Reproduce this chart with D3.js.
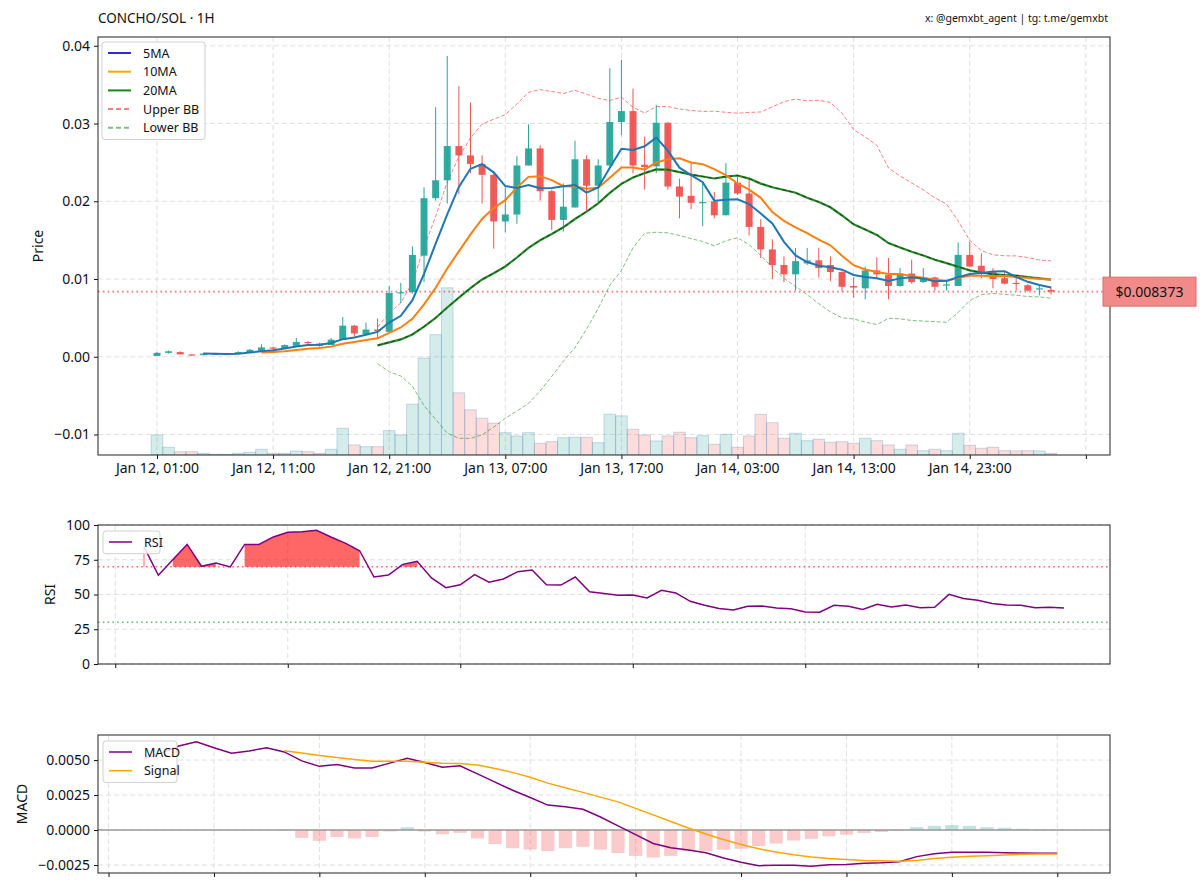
<!DOCTYPE html>
<html>
<head>
<meta charset="utf-8">
<script src="https://cdn.jsdelivr.net/npm/d3@7"></script>
<style>
body { margin: 0; background: #fff; }
text { font-family: "Noto Sans", "DejaVu Sans", sans-serif; fill: #111; }
</style>
</head>
<body>
<svg id="chart" width="1200" height="890"></svg>
<script>
// ---- data (hourly candles, Jan 12 01:00 -> Jan 15 06:00) ----
var tickLabels = ["Jan 12, 01:00", "Jan 12, 11:00", "Jan 12, 21:00", "Jan 13, 07:00",
  "Jan 13, 17:00", "Jan 14, 03:00", "Jan 14, 13:00", "Jan 14, 23:00", ""];
var tickIdx = [0, 10, 20, 30, 40, 50, 60, 70, 80];

var opens = [0.0001,0.0005,0.0006,0.0003,0.0002, 0.0003,0.0003,0.0005,0.0006,0.0007,
  0.0012,0.0011,0.0014,0.0019,0.0017, 0.0015,0.0022,0.0040,0.0029,0.0035,
  0.0032,0.0082,0.0083,0.0130,0.0204, 0.0227,0.0271,0.0259,0.0248,0.0234,
  0.0174,0.0183,0.0246,0.0268,0.0213, 0.0176,0.0192,0.0254,0.0220,0.0246,
  0.0302,0.0316,0.0247,0.0245,0.0301, 0.0219,0.0207,0.0198,0.0200,0.0182,
  0.0224,0.0210,0.0167,0.0138,0.0118, 0.0106,0.0120,0.0124,0.0118,0.0109,
  0.0091,0.0088,0.0111,0.0105,0.0091, 0.0107,0.0096,0.0102,0.0092,0.0091,
  0.0131,0.0117,0.0109,0.0101,0.0095, 0.0092,0.0087,0.0086];
var highs = [0.0006,0.0008,0.0007,0.0003,0.0005, 0.0005,0.0005,0.0007,0.0010,0.0016,
  0.0013,0.0016,0.0024,0.0020,0.0018, 0.0024,0.0051,0.0041,0.0044,0.0049,
  0.0091,0.0095,0.0142,0.0218,0.0321, 0.0387,0.0348,0.0327,0.0259,0.0236,
  0.0218,0.0258,0.0299,0.0272,0.0215, 0.0223,0.0278,0.0259,0.0254,0.0371,
  0.0382,0.0345,0.0283,0.0324,0.0302, 0.0229,0.0249,0.0223,0.0212,0.0249,
  0.0232,0.0228,0.0177,0.0151,0.0129, 0.0140,0.0140,0.0140,0.0129,0.0110,
  0.0102,0.0116,0.0128,0.0127,0.0114, 0.0125,0.0114,0.0103,0.0098,0.0147,
  0.0148,0.0133,0.0114,0.0109,0.0104, 0.0093,0.0091,0.0090];
var lows = [0.0001,0.0004,0.0003,0.0001,0.0002, 0.0003,0.0003,0.0005,0.0006,0.0007,
  0.0009,0.0011,0.0014,0.0016,0.0013, 0.0015,0.0022,0.0026,0.0029,0.0024,
  0.0032,0.0069,0.0081,0.0096,0.0201, 0.0197,0.0209,0.0236,0.0197,0.0139,
  0.0160,0.0171,0.0246,0.0201,0.0163, 0.0161,0.0192,0.0188,0.0199,0.0245,
  0.0285,0.0236,0.0215,0.0236,0.0215, 0.0178,0.0190,0.0168,0.0178,0.0182,
  0.0208,0.0156,0.0127,0.0100,0.0096, 0.0085,0.0118,0.0102,0.0097,0.0084,
  0.0076,0.0074,0.0100,0.0074,0.0090, 0.0094,0.0095,0.0085,0.0085,0.0091,
  0.0115,0.0101,0.0088,0.0093,0.0085, 0.0084,0.0079,0.0080];
var closes = [0.0005,0.0007,0.0003,0.0002,0.0004, 0.0004,0.0004,0.0006,0.0009,0.0012,
  0.0011,0.0015,0.0019,0.0018,0.0014, 0.0022,0.0040,0.0030,0.0035,0.0033,
  0.0082,0.0083,0.0131,0.0204,0.0227, 0.0271,0.0259,0.0248,0.0234,0.0174,
  0.0183,0.0246,0.0268,0.0213,0.0176, 0.0193,0.0254,0.0220,0.0246,0.0302,
  0.0316,0.0246,0.0244,0.0301,0.0219, 0.0206,0.0198,0.0199,0.0182,0.0224,
  0.0210,0.0167,0.0138,0.0118,0.0106, 0.0123,0.0124,0.0114,0.0109,0.0090,
  0.0089,0.0111,0.0106,0.0091,0.0107, 0.0096,0.0102,0.0090,0.0093,0.0131,
  0.0116,0.0109,0.0100,0.0094,0.0094, 0.0085,0.0088,0.008373];
var volumes = [20,7.7,3.3,3.3,1.7, 0.7,0.7,1.7,2.7,5.7,
  1.7,1.7,4,3.3,1.7, 5.7,26.7,10,8.3,8.3,
  24.3,20,50.7,96.7,120, 166.7,62,45,36.7,31.7,
  22.3,19,22.3,11.7,13.3, 17.3,17.7,17.7,12.3,40.7,
  39,25.7,20,14,19, 22.7,17.3,19.3,10.7,20.7,
  7.7,19,40.5,32.2,16.7, 21.7,14.3,15.7,12.7,13.3,
  11.7,16.7,14.3,10,5.7, 10,4.3,5.7,4.3,21.7,
  9.7,6.7,7.7,4.3,4, 4.3,4,1.7];
var lastPrice = 0.008373;

var rsiValues = [84.2,63.8,75,86,70.3,72.7,69.8,86,86,91.4,94.7,95.2,96.2,91.4,87,81.5,
  62.6,64,71.7,73.9,61.9,54.9,57,64.3,58.8,61.2,66.4,67.6,57,56.8,62.6,52.0,
  50.8,49.4,49.6,47.5,53.0,51.1,45.1,42.2,40.0,38.8,41.5,41.7,40.3,39.8,37.4,37.2,
  42.2,41.5,39.3,42.9,41.0,42.4,40.5,40.8,50.1,47.2,45.8,43.6,42.4,42.2,40.5,40.8,40.3];
var rsiTicks = [-2, 10, 22, 34, 46, 58];

var macdValues = [0.0051,0.0055,0.0060,0.0063,0.00588,0.00548,0.00565,0.00588,0.00558,0.00494,
  0.00455,0.00469,0.00443,0.00443,0.00478,0.00513,0.00483,0.00448,0.00459,0.00401,
  0.00342,0.00284,0.00232,0.00178,0.00166,0.00148,0.00093,0.0003,-0.00033,-0.00096,
  -0.00127,-0.00143,-0.00162,-0.0020,-0.0023,-0.00255,-0.00251,-0.00251,-0.00258,-0.00248,
  -0.00246,-0.00237,-0.00234,-0.00227,-0.0019,-0.00169,-0.00159,-0.00159,-0.00159,-0.00162,
  -0.00164,-0.00166,-0.00166];
var signalStart = 8;
var signalValues = [0.00567,0.00551,0.00532,0.00518,0.00504,0.00492,0.00492,0.00492,0.00485,0.00478,
  0.00476,0.00464,0.00440,0.00412,0.00377,0.00335,0.00302,0.00269,0.00235,0.00201,
  0.00155,0.00108,0.00061,0.00014,-0.00028,-0.00068,-0.00103,-0.00134,-0.00157,-0.00176,
  -0.00192,-0.00204,-0.00211,-0.00218,-0.0022,-0.00223,-0.00218,-0.00204,-0.00194,-0.00187,
  -0.00183,-0.00178,-0.00173,-0.00171,-0.00171];
var histValues = [-0.00005,-0.00056,-0.00077,-0.0005,-0.0006,-0.0005,-0.0001,0.0002,-0.0001,-0.0003,
  -0.0002,-0.0006,-0.0010,-0.0013,-0.0014,-0.0015,-0.0013,-0.0012,-0.0014,-0.00164,
  -0.00185,-0.00197,-0.00185,-0.0015,-0.0015,-0.00141,-0.00134,-0.00115,-0.00096,-0.00075,
  -0.00063,-0.00045,-0.00033,-0.00021,-0.00014,-0.00007,0.00021,0.0003,0.00035,0.0003,
  0.00021,0.00016,0.00009,0.00007,0.00005];
var macdTicks = [-2, 4, 10, 16, 22, 28, 34, 40, 46, 52];

// ---- layout ----
var UP = "#26a69a", DOWN = "#ef5350";
var svg = d3.select("#chart");
var mainBox = {left: 98, right: 1110, top: 37, bottom: 455};
var rsiBox = {left: 98, right: 1110, top: 525, bottom: 664};
var macdBox = {left: 98, right: 1110, top: 735, bottom: 873};

function clip(id, b) {
  svg.append("clipPath").attr("id", id).append("rect")
    .attr("x", b.left).attr("y", b.top).attr("width", b.right - b.left).attr("height", b.bottom - b.top);
}
clip("clipMain", mainBox); clip("clipRsi", rsiBox); clip("clipMacd", macdBox);

function grid(g, b, xs, ys, xTicks, yTicks) {
  g.selectAll(".vg").data(xTicks).enter().append("line")
    .attr("x1", function(d){ return xs(d); }).attr("x2", function(d){ return xs(d); })
    .attr("y1", b.top).attr("y2", b.bottom)
    .attr("stroke", "#e0e0e0").attr("stroke-dasharray", "5,3").attr("stroke-width", 1);
  g.selectAll(".hg").data(yTicks).enter().append("line")
    .attr("y1", function(d){ return ys(d); }).attr("y2", function(d){ return ys(d); })
    .attr("x1", b.left).attr("x2", b.right)
    .attr("stroke", "#e0e0e0").attr("stroke-dasharray", "5,3").attr("stroke-width", 1);
}

function axes(b, xs, ys, xTicks, xFmt, yTicks, yFmt) {
  var gx = svg.append("g").attr("transform", "translate(0," + b.bottom + ")")
    .call(d3.axisBottom(xs).tickValues(xTicks).tickFormat(xFmt).tickSize(4).tickPadding(4).tickSizeOuter(0));
  var gy = svg.append("g").attr("transform", "translate(" + b.left + ",0)")
    .call(d3.axisLeft(ys).tickValues(yTicks).tickFormat(yFmt).tickSize(4).tickPadding(4).tickSizeOuter(0));
  [gx, gy].forEach(function(g){
    g.select(".domain").remove();
    g.selectAll("text").style("font-family", "'Noto Sans', sans-serif").style("font-size", "14px").attr("fill", "#111");
    g.selectAll("line").attr("stroke", "#111");
  });
  svg.append("rect").attr("x", b.left).attr("y", b.top)
    .attr("width", b.right - b.left).attr("height", b.bottom - b.top)
    .attr("fill", "none").attr("stroke", "#222").attr("stroke-width", 1);
}

function legend(x0, y0, w, rows) {
  var g = svg.append("g");
  g.append("rect").attr("x", x0).attr("y", y0).attr("width", w).attr("height", rows.length * 18.7 + 4)
    .attr("rx", 3).attr("fill", "#fff").attr("fill-opacity", 0.85).attr("stroke", "#d0d0d0");
  rows.forEach(function(r, i){
    var cy = y0 + 11 + i * 18.7;
    g.append("line").attr("x1", x0 + 6).attr("x2", x0 + 29).attr("y1", cy).attr("y2", cy)
      .attr("stroke", r.color).attr("stroke-width", r.width || 2)
      .attr("stroke-dasharray", r.dash || null);
    g.append("text").attr("x", x0 + 41).attr("y", cy + 4.5).style("font-size", "12.5px").text(r.label);
  });
}

// ---- main price panel ----
var x = d3.scaleLinear().domain([-5.08, 82.08]).range([mainBox.left, mainBox.right]);
var y = d3.scaleLinear().domain([-0.01264, 0.04113]).range([mainBox.bottom, mainBox.top]);
var yVol = d3.scaleLinear().domain([0, d3.max(volumes) * 2.5]).range([mainBox.bottom, mainBox.top]);
var step = x(1) - x(0);

grid(svg.append("g"), mainBox, x, y, tickIdx, [-0.01, 0, 0.01, 0.02, 0.03, 0.04]);

var pm = svg.append("g").attr("clip-path", "url(#clipMain)");

// volume
pm.selectAll(".vol").data(volumes).enter().append("rect")
  .attr("x", function(d, i){ return x(i) - step / 2; })
  .attr("width", step)
  .attr("y", function(d){ return yVol(d); })
  .attr("height", function(d){ return yVol(0) - yVol(d); })
  .attr("fill", function(d, i){ return closes[i] >= opens[i] ? UP : DOWN; })
  .attr("fill-opacity", 0.2)
  .attr("stroke", "rgba(90,140,190,0.3)").attr("stroke-width", 1);

// indicators derived from the closes
function rolling(arr, n, fn) {
  return arr.map(function(d, i){ return i < n - 1 ? null : fn(arr.slice(i - n + 1, i + 1)); });
}
var ma5 = rolling(closes, 5, d3.mean);
var ma10 = rolling(closes, 10, d3.mean);
var ma20 = rolling(closes, 20, d3.mean);
var sd20 = rolling(closes, 20, d3.deviation);
var bbUpper = ma20.map(function(m, i){ return m == null ? null : m + 2 * sd20[i]; });
var bbLower = ma20.map(function(m, i){ return m == null ? null : m - 2 * sd20[i]; });

var line = d3.line().defined(function(d){ return d != null; })
  .x(function(d, i){ return x(i); }).y(function(d){ return y(d); });

pm.append("path").attr("d", line(bbUpper)).attr("fill", "none")
  .attr("stroke", "rgba(255,0,0,0.5)").attr("stroke-width", 1).attr("stroke-dasharray", "4,2");
pm.append("path").attr("d", line(bbLower)).attr("fill", "none")
  .attr("stroke", "rgba(0,128,0,0.5)").attr("stroke-width", 1).attr("stroke-dasharray", "4,2");

// current price line
pm.append("line").attr("x1", mainBox.left).attr("x2", mainBox.right)
  .attr("y1", y(lastPrice)).attr("y2", y(lastPrice))
  .attr("stroke", "rgba(255,0,0,0.55)").attr("stroke-width", 1.6).attr("stroke-dasharray", "1.6,3.2");

// candles
var candles = pm.selectAll(".candle").data(closes).enter().append("g");
candles.append("line")
  .attr("x1", function(d, i){ return x(i); }).attr("x2", function(d, i){ return x(i); })
  .attr("y1", function(d, i){ return y(highs[i]); }).attr("y2", function(d, i){ return y(lows[i]); })
  .attr("stroke", function(d, i){ return d >= opens[i] ? UP : DOWN; }).attr("stroke-width", 1);
candles.append("rect")
  .attr("x", function(d, i){ return x(i) - step * 0.3; })
  .attr("width", step * 0.6)
  .attr("y", function(d, i){ return y(Math.max(d, opens[i])); })
  .attr("height", function(d, i){ return Math.max(1.2, Math.abs(y(d) - y(opens[i]))); })
  .attr("fill", function(d, i){ return d >= opens[i] ? UP : DOWN; })
  .attr("fill-opacity", 0.95);

pm.append("path").attr("d", line(ma20)).attr("fill", "none").attr("stroke", "#2a8a2a").attr("stroke-width", 2.2);
pm.append("path").attr("d", line(ma20)).attr("fill", "none").attr("stroke", "#0d4a14")
  .attr("stroke-width", 1).attr("stroke-dasharray", "4,3");
pm.append("path").attr("d", line(ma10)).attr("fill", "none").attr("stroke", "#ff7f0e").attr("stroke-width", 2);
pm.append("path").attr("d", line(ma5)).attr("fill", "none").attr("stroke", "#1f77b4").attr("stroke-width", 2);

axes(mainBox, x, y, tickIdx, function(d, i){ return tickLabels[i]; },
  [-0.01, 0, 0.01, 0.02, 0.03, 0.04], d3.format(".2f"));

legend(102, 42, 103, [
  {label: "5MA", color: "#2b2bdc"},
  {label: "10MA", color: "#ffa500"},
  {label: "20MA", color: "#138a13"},
  {label: "Upper BB", color: "rgba(255,0,0,0.5)", dash: "5,3"},
  {label: "Lower BB", color: "rgba(0,128,0,0.5)", dash: "5,3"}
]);

// price tag
var tag = svg.append("g");
tag.append("rect").attr("x", 1103).attr("y", y(lastPrice) - 14.5).attr("width", 93).attr("height", 29)
  .attr("fill", "#f28a8a").attr("stroke", "#e26a6a").attr("stroke-width", 1);
tag.append("text").attr("x", 1149.5).attr("y", y(lastPrice) + 5).attr("text-anchor", "middle")
  .style("font-size", "14px").text("$" + lastPrice.toFixed(6));

svg.append("text").attr("x", 98).attr("y", 23).style("font-size", "13.5px").text("CONCHO/SOL \u00b7 1H");
svg.append("text").attr("x", 1108).attr("y", 22).attr("text-anchor", "end").style("font-size", "10.5px")
  .text("x: @gemxbt_agent | tg: t.me/gemxbt");
svg.append("text").attr("transform", "translate(43," + ((mainBox.top + mainBox.bottom) / 2) + ") rotate(-90)")
  .attr("text-anchor", "middle").style("font-size", "14px").text("Price");

// ---- RSI panel ----
var xr = d3.scaleLinear().domain([-3.2, 67.2]).range([rsiBox.left, rsiBox.right]);
var yr = d3.scaleLinear().domain([0, 100]).range([rsiBox.bottom, rsiBox.top]);
grid(svg.append("g"), rsiBox, xr, yr, rsiTicks, [0, 25, 50, 75, 100]);
var pr = svg.append("g").attr("clip-path", "url(#clipRsi)");

// overbought fill, one polygon per contiguous run above 70
var runs = [], cur = null;
rsiValues.forEach(function(v, i){
  if (v > 70) { if (!cur) { cur = []; runs.push(cur); } cur.push(i); } else cur = null;
});
var area = d3.area().x(function(i){ return xr(i); }).y0(yr(70)).y1(function(i){ return yr(rsiValues[i]); });
runs.forEach(function(r){
  if (r.length === 1) {
    pr.append("line").attr("x1", xr(r[0])).attr("x2", xr(r[0])).attr("y1", yr(70)).attr("y2", yr(rsiValues[r[0]]))
      .attr("stroke", "#ff6666").attr("stroke-width", 1);
  } else {
    pr.append("path").attr("d", area(r)).attr("fill", "#ff0000").attr("fill-opacity", 0.6);
  }
});
pr.append("line").attr("x1", rsiBox.left).attr("x2", rsiBox.right).attr("y1", yr(70)).attr("y2", yr(70))
  .attr("stroke", "rgba(255,0,0,0.6)").attr("stroke-width", 1.6).attr("stroke-dasharray", "1.6,3.2");
pr.append("line").attr("x1", rsiBox.left).attr("x2", rsiBox.right).attr("y1", yr(30)).attr("y2", yr(30))
  .attr("stroke", "rgba(0,150,0,0.6)").attr("stroke-width", 1.6).attr("stroke-dasharray", "1.6,3.2");
pr.append("path").attr("d", d3.line().x(function(d, i){ return xr(i); }).y(function(d){ return yr(d); })(rsiValues))
  .attr("fill", "none").attr("stroke", "#800080").attr("stroke-width", 1.5);
axes(rsiBox, xr, yr, rsiTicks, function(){ return ""; }, [0, 25, 50, 75, 100], d3.format("d"));
legend(103, 531, 57, [{label: "RSI", color: "#800080", width: 1.5}]);
svg.append("text").attr("transform", "translate(55," + ((rsiBox.top + rsiBox.bottom) / 2) + ") rotate(-90)")
  .attr("text-anchor", "middle").style("font-size", "14px").text("RSI");

// ---- MACD panel ----
var xm = d3.scaleLinear().domain([-2.6, 55.0]).range([macdBox.left, macdBox.right]);
var ym = d3.scaleLinear().domain([-0.00307, 0.00679]).range([macdBox.bottom, macdBox.top]);
var mstep = xm(1) - xm(0);
grid(svg.append("g"), macdBox, xm, ym, macdTicks, [-0.0025, 0, 0.0025, 0.005]);
var pmc = svg.append("g").attr("clip-path", "url(#clipMacd)");
pmc.selectAll(".hist").data(histValues).enter().append("rect")
  .attr("x", function(d, i){ return xm(i + signalStart) - mstep * 0.375; })
  .attr("width", mstep * 0.75)
  .attr("y", function(d){ return ym(Math.max(0, d)); })
  .attr("height", function(d){ return Math.abs(ym(d) - ym(0)); })
  .attr("fill", function(d){ return d >= 0 ? UP : DOWN; }).attr("fill-opacity", 0.3);
pmc.append("line").attr("x1", macdBox.left).attr("x2", macdBox.right).attr("y1", ym(0)).attr("y2", ym(0))
  .attr("stroke", "#9a9a9a").attr("stroke-width", 1.6);
pmc.append("path").attr("d", d3.line().x(function(d, i){ return xm(i); }).y(function(d){ return ym(d); })(macdValues))
  .attr("fill", "none").attr("stroke", "#800080").attr("stroke-width", 1.5);
pmc.append("path").attr("d", d3.line().x(function(d, i){ return xm(i + signalStart); }).y(function(d){ return ym(d); })(signalValues))
  .attr("fill", "none").attr("stroke", "#ffa500").attr("stroke-width", 1.5);
axes(macdBox, xm, ym, macdTicks, function(){ return ""; }, [-0.0025, 0, 0.0025, 0.005], d3.format(".4f"));
legend(103, 741, 74, [{label: "MACD", color: "#800080", width: 1.5}, {label: "Signal", color: "#ffa500", width: 1.5}]);
svg.append("text").attr("transform", "translate(27," + ((macdBox.top + macdBox.bottom) / 2) + ") rotate(-90)")
  .attr("text-anchor", "middle").style("font-size", "14px").text("MACD");
</script>
</body>
</html>
